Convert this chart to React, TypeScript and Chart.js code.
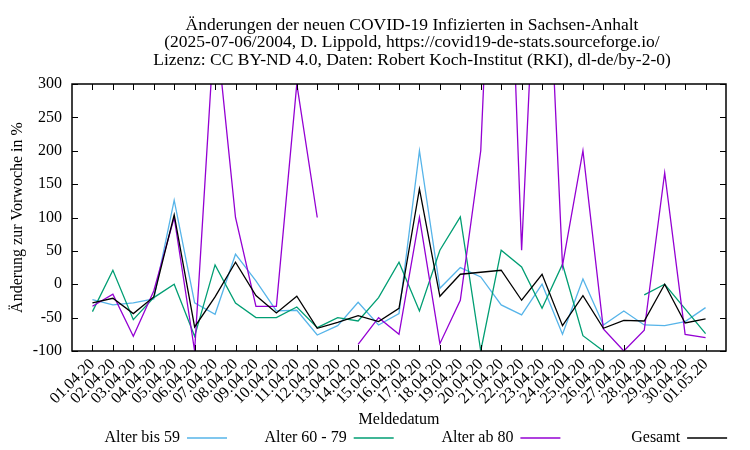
import React, { useEffect, useRef } from 'react';
import { Chart, registerables } from 'chart.js';

Chart.register(...registerables);

const labels = [
  '01.04.20', '02.04.20', '03.04.20', '04.04.20', '05.04.20', '06.04.20', '07.04.20', '08.04.20',
  '09.04.20', '10.04.20', '11.04.20', '12.04.20', '13.04.20', '14.04.20', '15.04.20', '16.04.20',
  '17.04.20', '18.04.20', '19.04.20', '20.04.20', '21.04.20', '22.04.20', '23.04.20', '24.04.20',
  '25.04.20', '26.04.20', '27.04.20', '28.04.20', '29.04.20', '30.04.20', '01.05.20',
];

const alterBis59 = [-23, -31, -28, -22, 126, -28, -45, 45, 5, -40, -39, -76, -62, -27, -61, -44, 200, -6, 25, 11, -31, -46, 0, -75, 8, -61, -40, -61, -62, -56, -35];
const alter60bis79 = [-41, 21, -53, -20, 0, -78, 29, -28, -50, -50, -34, -65, -50, -55, -20, 33, -40, 51, 101, -100, 51, 26, -36, 30, -77, -100, null, -16, 0, -37, -74];
const alterAb80 = [-33, -15, -78, -10, 100, -100, 400, 100, -33, -33, 300, 100, null, -90, -50, -75, 100, -89, -24, 200, 900, 51, 710, 28, 200, -67, -100, -69, 167, -75, -80];
const gesamt = [-28, -21, -44, -19, 104, -64, -19, 33, -17, -43, -18, -66, -57, -47, -56, -36, 143, -18, 15, 18, 21, -24, 15, -62, -17, -66, -54, -55, 0, -58, -52];

const yTicks = [-100, -50, 0, 50, 100, 150, 200, 250, 300];

const titleLines = [
  'Änderungen der neuen COVID-19 Infizierten in Sachsen-Anhalt',
  '(2025-07-06/2004, D. Lippold, https://covid19-de-stats.sourceforge.io/',
  'Lizenz: CC BY-ND 4.0, Daten: Robert Koch-Institut (RKI), dl-de/by-2-0)',
];

const seriesNames = ['Alter bis 59', 'Alter 60 - 79', 'Alter ab 80', 'Gesamt'];
const seriesColors = ['#56b4e9', '#009e73', '#9400d3', '#000000'];
const seriesValues = [alterBis59, alter60bis79, alterAb80, gesamt];

const FONT = '"Liberation Serif", "Times New Roman", serif';
const FS = 16;

const framePlugin = {
  id: 'frame',
  afterDatasetsDraw(chart: any) {
    const { ctx, chartArea } = chart;
    const { left, right, top, bottom } = chartArea;
    const x = chart.scales.x;
    const y = chart.scales.y;
    ctx.save();
    ctx.strokeStyle = '#000';
    ctx.lineWidth = 1;
    ctx.beginPath();
    for (let i = 0; i < labels.length; i++) {
      const px = Math.round(x.getPixelForValue(i)) + 0.5;
      ctx.moveTo(px, bottom);
      ctx.lineTo(px, bottom - 6);
      ctx.moveTo(px, top);
      ctx.lineTo(px, top + 6);
    }
    for (const v of yTicks) {
      const py = Math.round(y.getPixelForValue(v)) + 0.5;
      ctx.moveTo(left, py);
      ctx.lineTo(left + 6, py);
      ctx.moveTo(right, py);
      ctx.lineTo(right - 6, py);
    }
    ctx.stroke();
    ctx.lineWidth = 1.5;
    ctx.strokeRect(left, top, right - left, bottom - top);
    ctx.restore();
  },
};

const textPlugin = {
  id: 'texts',
  afterDraw(chart: any) {
    const { ctx } = chart;
    ctx.save();
    ctx.fillStyle = '#000';
    ctx.font = `17.5px ${FONT}`;
    ctx.textBaseline = 'middle';
    ctx.textAlign = 'center';
    const ys = [25, 42.5, 60];
    titleLines.forEach((t, i) => ctx.fillText(t, 412, ys[i]));
    // legend
    ctx.font = `${FS}px ${FONT}`;
    const ly = 438;
    for (let k = 0; k < seriesNames.length; k++) {
      const textEnd = 180 + k * 166.7;
      ctx.textAlign = 'right';
      ctx.fillStyle = '#000';
      ctx.fillText(seriesNames[k], textEnd, ly);
      ctx.strokeStyle = seriesColors[k];
      ctx.lineWidth = 1.3;
      ctx.beginPath();
      ctx.moveTo(textEnd + 7, ly);
      ctx.lineTo(textEnd + 47, ly);
      ctx.stroke();
    }
    ctx.restore();
  },
};

export default function App() {
  const ref = useRef<HTMLCanvasElement | null>(null);
  useEffect(() => {
    if (!ref.current) return;
    const datasets = seriesValues.map((vals, k) => ({
      label: seriesNames[k],
      data: vals.map((v, i) => ({ x: i, y: v })),
      borderColor: seriesColors[k],
      backgroundColor: seriesColors[k],
      borderWidth: 1.3,
      pointRadius: 0,
      tension: 0,
      spanGaps: false,
      order: 4 - k,
    }));
    const chart = new Chart(ref.current, {
      type: 'line',
      data: { datasets },
      options: {
        animation: false,
        responsive: false,
        layout: { padding: { top: 84, right: 24, left: 0, bottom: 0 } },
        plugins: {
          legend: { display: false },
          title: { display: false },
          tooltip: { enabled: false },
        },
        scales: {
          x: {
            type: 'linear',
            min: -1,
            max: 31,
            grid: { display: false, drawTicks: false },
            border: { display: false },
            afterFit: (s: any) => { s.height = 99; },
            ticks: {
              stepSize: 1,
              autoSkip: false,
              maxTicksLimit: 100,
              maxRotation: 45,
              minRotation: 45,
              padding: 4,
              color: '#000',
              font: { family: FONT, size: FS },
              callback: (v: any) => (labels[v as number] ?? ''),
            },
            title: {
              display: true,
              text: 'Meldedatum',
              color: '#000',
              font: { family: FONT, size: FS },
              padding: { top: 0, bottom: 21 },
            },
          },
          y: {
            type: 'linear',
            min: -100,
            max: 300,
            grid: { display: false, drawTicks: false },
            border: { display: false },
            afterFit: (s: any) => { s.width = 72; },
            ticks: {
              stepSize: 50,
              padding: 10,
              color: '#000',
              font: { family: FONT, size: FS },
            },
            title: {
              display: true,
              text: 'Änderung zur Vorwoche in %',
              color: '#000',
              font: { family: FONT, size: FS },
              padding: { top: 8, bottom: 0 },
            },
          },
        },
      },
      plugins: [framePlugin, textPlugin],
    });
    return () => chart.destroy();
  }, []);
  return (
    <div style={{ position: 'fixed', left: 0, top: 0, width: 750, height: 450, background: '#fff' }}>
      <canvas ref={ref} width={750} height={450} />
    </div>
  );
}
